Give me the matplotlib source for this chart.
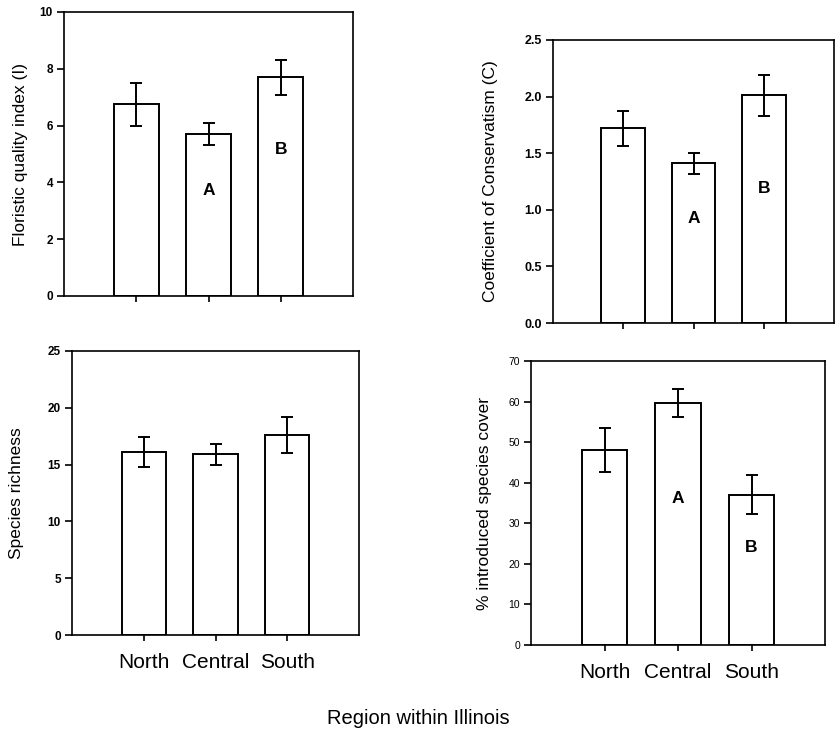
import matplotlib
matplotlib.use("Agg")
import matplotlib.pyplot as plt

plt.rcParams['font.family'] = ['Liberation Sans', 'DejaVu Sans']

regions = ["North", "Central", "South"]

fqi_mean = [6.75, 5.7, 7.7]
fqi_err = [0.75, 0.4, 0.62]
fqi_letters = ["", "A", "B"]
fqi_letter_y = [0, 3.7, 5.15]

cc_mean = [1.72, 1.41, 2.01]
cc_err = [0.155, 0.095, 0.18]
cc_letters = ["", "A", "B"]
cc_letter_y = [0, 0.92, 1.19]

sr_mean = [16.1, 15.9, 17.6]
sr_err = [1.35, 0.9, 1.55]

intro_mean = [48.0, 59.7, 37.0]
intro_err = [5.4, 3.5, 4.8]
intro_letters = ["", "A", "B"]
intro_letter_y = [0, 36.0, 24.0]

W, H = 836, 741
fig = plt.figure(figsize=(W / 100, H / 100), dpi=100)


def make_ax(l, r, t, b):
    return fig.add_axes([l / W, 1 - b / H, (r - l) / W, (b - t) / H])


def draw(ax, means, errs, ylim, yticks, yticklabels, ylabel, letters=None,
         letter_y=None, show_x=False, ytick_fs=8.5, ytick_weight='bold'):
    x = [1, 2, 3]
    ax.bar(x, means, width=0.62, color='white', edgecolor='black', linewidth=1.4,
           yerr=errs, capsize=4.5, error_kw=dict(elinewidth=1.4, capthick=1.4, ecolor='black'),
           zorder=2)
    ax.set_xlim(0, 4)
    ax.set_ylim(*ylim)
    ax.set_yticks(yticks)
    ax.set_yticklabels(yticklabels, fontsize=ytick_fs, fontweight=ytick_weight)
    ax.set_xticks(x)
    if show_x:
        ax.set_xticklabels(regions, fontsize=15)
    else:
        ax.set_xticklabels([])
    ax.tick_params(axis='y', direction='out', length=5, width=1.2, pad=3)
    ax.tick_params(axis='x', direction='out', length=4, width=1.2, pad=9)
    for s in ax.spines.values():
        s.set_linewidth(1.2)
    ax.set_ylabel(ylabel, fontsize=12.5)
    if letters:
        for xi, lt, ly in zip(x, letters, letter_y):
            if lt:
                ax.text(xi, ly, lt, ha='center', va='center', fontsize=12.5,
                        fontweight='bold')


ax1 = make_ax(64, 353, 12, 296)
draw(ax1, fqi_mean, fqi_err, (0, 10), [0, 2, 4, 6, 8, 10],
     ["0", "2", "4", "6", "8", "10"], "Floristic quality index (I)",
     fqi_letters, fqi_letter_y)

ax2 = make_ax(553, 834, 40, 323)
draw(ax2, cc_mean, cc_err, (0, 2.5), [0, 0.5, 1.0, 1.5, 2.0, 2.5],
     ["0.0", "0.5", "1.0", "1.5", "2.0", "2.5"], "Coefficient of Conservatism (C)",
     cc_letters, cc_letter_y, ytick_fs=9)

ax3 = make_ax(72, 359, 351, 635)
draw(ax3, sr_mean, sr_err, (0, 25), [0, 5, 10, 15, 20, 25],
     ["0", "5", "10", "15", "20", "25"], "Species richness", show_x=True)

ax4 = make_ax(531, 825, 361, 645)
draw(ax4, intro_mean, intro_err, (0, 70), [0, 10, 20, 30, 40, 50, 60, 70],
     ["0", "10", "20", "30", "40", "50", "60", "70"], "% introduced species cover",
     intro_letters, intro_letter_y, show_x=True, ytick_fs=7.5, ytick_weight='normal')

ax1.yaxis.set_label_coords(-0.125, 0.5)
ax2.yaxis.set_label_coords(-0.196, 0.5)
ax3.yaxis.set_label_coords(-0.167, 0.5)
ax4.yaxis.set_label_coords(-0.133, 0.5)

fig.text(418 / W, 1 - 718 / H, "Region within Illinois", ha='center', va='center', fontsize=14.5)

fig.savefig("out.png", dpi=100)
